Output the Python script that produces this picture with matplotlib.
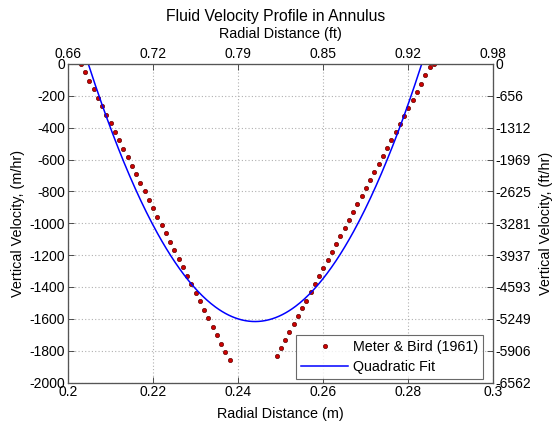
import matplotlib
matplotlib.use("Agg")
import matplotlib.pyplot as plt
import numpy as np

plt.rcParams['font.family'] = ['Liberation Sans', 'DejaVu Sans']

# Meter & Bird (1961) data, left branch
r_left = [0.203, 0.204, 0.205, 0.206, 0.207, 0.208, 0.209, 0.210, 0.211, 0.212,
          0.213, 0.214, 0.215, 0.216, 0.217, 0.218, 0.219, 0.220, 0.221, 0.222,
          0.223, 0.224, 0.225, 0.226, 0.227, 0.228, 0.229, 0.230, 0.231, 0.232,
          0.233, 0.234, 0.235, 0.236, 0.237, 0.238]
v_left = [0, -53, -106, -160, -213, -266, -319, -372, -426, -479,
          -532, -585, -638, -692, -745, -798, -851, -904, -958, -1011,
          -1064, -1117, -1170, -1224, -1277, -1330, -1383, -1436, -1490, -1543,
          -1596, -1649, -1702, -1756, -1809, -1860]
# right branch
r_right = [0.2491, 0.2501, 0.2511, 0.2521, 0.2531, 0.2541, 0.2551, 0.2561, 0.2571, 0.2581,
           0.2591, 0.2601, 0.2611, 0.2621, 0.2631, 0.2641, 0.2651, 0.2661, 0.2671, 0.2681,
           0.2691, 0.2701, 0.2711, 0.2721, 0.2731, 0.2741, 0.2751, 0.2761, 0.2771, 0.2781,
           0.2791, 0.2801, 0.2811, 0.2821, 0.2831, 0.2841, 0.2851, 0.2861]
v_right = [-1835, -1785, -1735, -1680, -1632, -1582, -1534, -1486, -1431, -1381,
           -1331, -1281, -1231, -1181, -1131, -1081, -1031, -981, -931, -880,
           -828, -778, -727, -677, -627, -577, -525, -475, -424, -374,
           -326, -274, -224, -174, -124, -71, -21, 0]

# Quadratic fit coefficients: v = a r^2 + b r + c
fit_coef = [1.0514e6, -513083.0, 60979.0]
fit_range = [0.20478, 0.28322]

m_ticks = [0.2, 0.22, 0.24, 0.26, 0.28, 0.3]
v_ticks = [0, -200, -400, -600, -800, -1000, -1200, -1400, -1600, -1800, -2000]
M_TO_FT = 3.28084

TICK_FS = 10
LABEL_FS = 10.4

fig = plt.figure(figsize=(5.52, 4.23), dpi=100)
ax = fig.add_axes([0.1232, 0.0957, 0.7700, 0.7530])

r_fit = np.linspace(fit_range[0], fit_range[1], 300)
v_fit = np.polyval(fit_coef, r_fit)

r_data = r_left + r_right
v_data = v_left + v_right
ax.plot(r_data, v_data, linestyle='none', marker='o', ms=3.0,
        mfc='#d00000', mec='#701010', mew=0.6, label='Meter & Bird (1961)')
ax.plot(r_fit, v_fit, color='#0000ff', lw=1.1, label='Quadratic Fit')

ax.set_xlim(0.2, 0.3)
ax.set_ylim(-2000, 0)
ax.set_xticks(m_ticks)
ax.set_xticklabels([f"{t:g}" for t in m_ticks])
ax.set_yticks(v_ticks)
ax.set_yticklabels([str(t) for t in v_ticks])
ax.grid(True, linestyle=(0, (1, 2)), color='#b0b0b0', lw=0.8)
ax.tick_params(direction='in', labelsize=TICK_FS, length=4, width=0.6,
               colors='#333333', labelcolor='black', pad=2)
for s in ax.spines.values():
    s.set_color('#555555')
    s.set_linewidth(0.8)
ax.set_xlabel('Radial Distance (m)', fontsize=LABEL_FS, labelpad=5.5)
ax.set_ylabel('Vertical Velocity, (m/hr)', fontsize=LABEL_FS, labelpad=3)

axt = ax.twiny()
axt.set_xlim(ax.get_xlim())
axt.set_xticks(m_ticks)
axt.set_xticklabels([f"{t*M_TO_FT:.2f}" for t in m_ticks])
axt.tick_params(direction='in', labelsize=TICK_FS, length=4, width=0.6,
                colors='#333333', labelcolor='black', pad=2)
axt.set_xlabel('Radial Distance (ft)', fontsize=LABEL_FS, labelpad=6.5)

axr = ax.twinx()
axr.set_ylim(ax.get_ylim())
axr.set_yticks(v_ticks)
axr.set_yticklabels([f"{round(t*M_TO_FT):d}" for t in v_ticks])
axr.tick_params(direction='in', labelsize=TICK_FS, length=4, width=0.6,
                colors='#333333', labelcolor='black', pad=2)
axr.set_ylabel('Vertical Velocity, (ft/hr)', fontsize=LABEL_FS, labelpad=5)

for a in (axt, axr):
    for s in a.spines.values():
        s.set_color('#555555')
        s.set_linewidth(0.8)

leg = ax.legend(loc='lower right', bbox_to_anchor=(0.976, 0.012), fontsize=10.3,
                frameon=True, fancybox=False, edgecolor='#444444', borderaxespad=0,
                handlelength=3.3, handletextpad=0.3, borderpad=0.35, labelspacing=0.4)
leg.get_frame().set_linewidth(0.8)

fig.text(0.5, 0.962, 'Fluid Velocity Profile in Annulus', ha='center', va='center', fontsize=11.3)

fig.savefig('out.png', dpi=100)
